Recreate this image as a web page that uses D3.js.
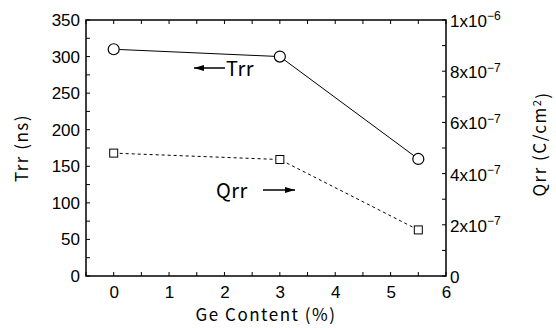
<!DOCTYPE html>
<html>
<head>
<meta charset="utf-8">
<script src="https://cdn.jsdelivr.net/npm/d3@7"></script>
<style>
  body { margin: 0; background: #fff; }
  svg { display: block; }
  text { font-family: "Liberation Sans", Arial, sans-serif; fill: #000; }
  .title { font-family: "Noto Sans CJK JP", sans-serif; letter-spacing: 1.5px; }
</style>
</head>
<body>
<div id="chart"></div>
<script>
const geContent = [0, 3, 5.5];
const trr = [310, 300, 160];          // ns
const qrr = [4.8e-7, 4.55e-7, 1.8e-7]; // C/cm2
const xTicks = [0, 1, 2, 3, 4, 5, 6];
const leftTicks = [0, 50, 100, 150, 200, 250, 300, 350];
const rightTicks = [0, 2e-7, 4e-7, 6e-7, 8e-7, 1e-6];

const width = 556, height = 328;
const margin = { top: 20, right: 110, bottom: 52, left: 86 };
const w = width - margin.left - margin.right;
const h = height - margin.top - margin.bottom;

const svg = d3.select("#chart").append("svg")
  .attr("width", width).attr("height", height);

const g = svg.append("g")
  .attr("transform", "translate(" + margin.left + "," + margin.top + ")");

const x = d3.scaleLinear().domain([-0.5, 6]).range([0, w]);
const yL = d3.scaleLinear().domain([0, 350]).range([h, 0]);
const yR = d3.scaleLinear().domain([0, 1e-6]).range([h, 0]);

// minor ticks (inward)
const minor = (sel, scale, vals, orient) => {
  vals.forEach(v => {
    const p = scale(v);
    if (orient === "left") sel.append("line").attr("x1", 0).attr("x2", 4).attr("y1", p).attr("y2", p);
    if (orient === "right") sel.append("line").attr("x1", w).attr("x2", w - 4).attr("y1", p).attr("y2", p);
    if (orient === "bottom") sel.append("line").attr("x1", p).attr("x2", p).attr("y1", h).attr("y2", h - 4);
    if (orient === "top") sel.append("line").attr("x1", p).attr("x2", p).attr("y1", 0).attr("y2", 4);
  });
};
const ticks = g.append("g").attr("stroke", "#000").attr("stroke-width", 1);
minor(ticks, yL, d3.range(0, 351, 25), "left");
minor(ticks, yR, d3.range(0, 11).map(d => d * 1e-7), "right");
minor(ticks, x, d3.range(-0.5, 6.01, 0.5), "bottom");
minor(ticks, x, d3.range(-0.5, 6.01, 0.5), "top");

// axes
const axB = g.append("g").attr("transform", "translate(0," + h + ")")
  .call(d3.axisBottom(x).tickValues(xTicks).tickFormat(d3.format("d")).tickSize(0).tickPadding(10));
axB.selectAll("text").style("font-size", "17px");

const axL = g.append("g")
  .call(d3.axisLeft(yL).tickValues(leftTicks).tickSize(0).tickPadding(6));
axL.selectAll("text").style("font-size", "17px");

const axR = g.append("g").attr("transform", "translate(" + w + ",0)")
  .call(d3.axisRight(yR).tickValues(rightTicks).tickSize(0).tickFormat(""));
axR.selectAll(".tick").each(function(d) {
  const t = d3.select(this).append("text").attr("x", 4).attr("dy", "0.38em")
    .style("font-size", "17px").attr("text-anchor", "start");
  if (d === 0) { t.text("0"); return; }
  const e = Math.floor(Math.log10(d) + 1e-9);
  const m = Math.round(d / Math.pow(10, e));
  t.append("tspan").text(m + "x10");
  t.append("tspan").attr("dy", "-0.55em").style("font-size", "12px").text("−" + Math.abs(e));
});

g.selectAll(".domain").remove();
g.append("rect").attr("width", w).attr("height", h)
  .attr("fill", "none").attr("stroke", "#000").attr("stroke-width", 1.5);

// series
g.append("path").datum(geContent.map((d, i) => [d, trr[i]]))
  .attr("fill", "none").attr("stroke", "#000").attr("stroke-width", 1)
  .attr("d", d3.line().x(d => x(d[0])).y(d => yL(d[1])));
g.append("path").datum(geContent.map((d, i) => [d, qrr[i]]))
  .attr("fill", "none").attr("stroke", "#000").attr("stroke-width", 1)
  .attr("stroke-dasharray", "3,3")
  .attr("d", d3.line().x(d => x(d[0])).y(d => yR(d[1])));

g.selectAll("circle.trr").data(geContent).enter().append("circle")
  .attr("cx", d => x(d)).attr("cy", (d, i) => yL(trr[i])).attr("r", 5.5)
  .attr("fill", "#fff").attr("stroke", "#000").attr("stroke-width", 1.2);
g.selectAll("rect.qrr").data(geContent).enter().append("rect")
  .attr("x", d => x(d) - 4).attr("y", (d, i) => yR(qrr[i]) - 4)
  .attr("width", 8).attr("height", 8)
  .attr("fill", "#fff").attr("stroke", "#000").attr("stroke-width", 1);

// annotations with arrows
svg.append("defs").append("marker").attr("id", "ah")
  .attr("viewBox", "0 0 10 6").attr("refX", 10).attr("refY", 3)
  .attr("markerWidth", 10).attr("markerHeight", 6).attr("markerUnits", "userSpaceOnUse")
  .attr("orient", "auto")
  .append("path").attr("d", "M0,0 L10,3 L0,6 Z").attr("fill", "#000");

svg.append("line").attr("x1", 225).attr("y1", 68).attr("x2", 194).attr("y2", 68)
  .attr("stroke", "#000").attr("stroke-width", 1.5).attr("marker-end", "url(#ah)");
svg.append("text").attr("class", "title").attr("x", 226).attr("y", 76)
  .style("font-size", "20px").style("letter-spacing", "0.5px").text("Trr");

svg.append("text").attr("class", "title").attr("x", 216).attr("y", 198)
  .style("font-size", "20px").style("letter-spacing", "0.5px").text("Qrr");
svg.append("line").attr("x1", 263).attr("y1", 190).attr("x2", 295).attr("y2", 190)
  .attr("stroke", "#000").attr("stroke-width", 1.5).attr("marker-end", "url(#ah)");

// axis titles
svg.append("text").attr("class", "title")
  .attr("transform", "translate(" + 28 + "," + (margin.top + h / 2) + ") rotate(-90)")
  .attr("text-anchor", "middle").style("font-size", "17px").text("Trr (ns)");

const rt = svg.append("text").attr("class", "title")
  .attr("transform", "translate(" + 546 + "," + (margin.top + h / 2 - 4) + ") rotate(-90)")
  .attr("text-anchor", "middle").style("font-size", "17px");
rt.append("tspan").text("Qrr (C/cm");
rt.append("tspan").attr("dy", "-0.5em").style("font-size", "11px").text("2");
rt.append("tspan").attr("dy", "0.5em").text(")");

svg.append("text").attr("class", "title")
  .attr("x", margin.left + x(2.75)).attr("y", 321)
  .attr("text-anchor", "middle").style("font-size", "17px").text("Ge Content (%)");
</script>
</body>
</html>
